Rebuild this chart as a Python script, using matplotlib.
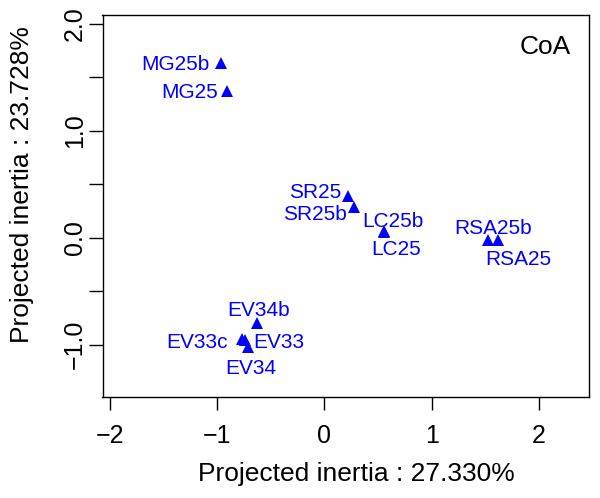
import matplotlib
matplotlib.use("Agg")
import matplotlib.pyplot as plt

plt.rcParams['font.family'] = ['Liberation Sans', 'DejaVu Sans']

# ---- data ----
labels = ["MG25b", "MG25", "SR25", "SR25b", "LC25b", "LC25",
          "RSA25b", "RSA25", "EV34b", "EV33c", "EV33", "EV34"]
x_vals = [-0.966, -0.904, 0.218, 0.280, 0.555, 0.561,
          1.528, 1.616, -0.630, -0.770, -0.737, -0.708]
y_vals = [1.635, 1.374, 0.395, 0.292, 0.060, 0.050,
          -0.019, -0.025, -0.793, -0.949, -0.958, -1.026]
x_ticks = [-2, -1, 0, 1, 2]
x_ticklabels = ["\u22122", "\u22121", "0", "1", "2"]
y_ticks = [-1.0, -0.5, 0.0, 0.5, 1.0, 1.5, 2.0]
y_ticklabels = ["\u22121.0", "", "0.0", "", "1.0", "", "2.0"]
x_title = "Projected inertia : 27.330%"
y_title = "Projected inertia : 23.728%"
panel_title = "CoA"

# ---- label placement (style): offsets in pixels (dx right, dy down), horizontal alignment ----
label_style = {
    "MG25b": (-10.7, 0.0, "right"),
    "MG25": (-9.3, 0.0, "right"),
    "SR25": (-6.0, -5.0, "right"),
    "SR25b": (-7.6, 5.7, "right"),
    "LC25b": (8.7, -11.7, "center"),
    "LC25": (11.5, 15.0, "center"),
    "RSA25b": (4.5, -13.3, "center"),
    "RSA25": (20.6, 17.3, "center"),
    "EV34b": (2.0, -14.0, "center"),
    "EV33c": (-14.0, 1.0, "right"),
    "EV33": (7.7, 0.0, "left"),
    "EV34": (2.5, 18.7, "center"),
}

W, H, DPI = 600, 498, 100
fig = plt.figure(figsize=(W / DPI, H / DPI), dpi=DPI)
ax = fig.add_axes([102.5 / W, 1 - 396.7 / H, (589.3 - 102.5) / W, (396.7 - 15.3) / H])

ax.plot(x_vals, y_vals, linestyle="none", marker="^", markersize=8.5,
        color="#0000FF", markeredgewidth=0)

px2pt = 72.0 / DPI
for lab, xv, yv in zip(labels, x_vals, y_vals):
    dx, dy, ha = label_style[lab]
    ax.annotate(lab, xy=(xv, yv), xytext=(dx * px2pt, -dy * px2pt),
                textcoords="offset points", ha=ha, va="center_baseline",
                fontsize=15, color="#0000FF")

ax.annotate(panel_title, xy=(1, 1), xycoords="axes fraction",
            xytext=(-18.3 * px2pt, -28.7 * px2pt), textcoords="offset points",
            ha="right", va="center_baseline", fontsize=19, color="black")

ax.set_xlim(-2.067, 2.470)
ax.set_ylim(-1.487, 2.081)

ax.set_xticks(x_ticks)
ax.set_xticklabels(x_ticklabels)
ax.set_yticks(y_ticks)
ax.set_yticklabels(y_ticklabels)

ax.tick_params(axis="x", length=9, width=1, pad=11, labelsize=18, direction="out")
ax.tick_params(axis="y", length=10, width=1, pad=1, labelsize=18, direction="out",
               labelrotation=90)
for t in ax.get_yticklabels():
    t.set_va("center")

for s in ax.spines.values():
    s.set_linewidth(1.0)
    s.set_color("black")

fig.text(356 / W, 1 - 473.5 / H, x_title, ha="center", va="center", fontsize=19)
fig.text(22 / W, 1 - 185 / H, y_title, ha="center", va="center", fontsize=19,
         rotation=90)

fig.savefig("out.png", dpi=DPI)
